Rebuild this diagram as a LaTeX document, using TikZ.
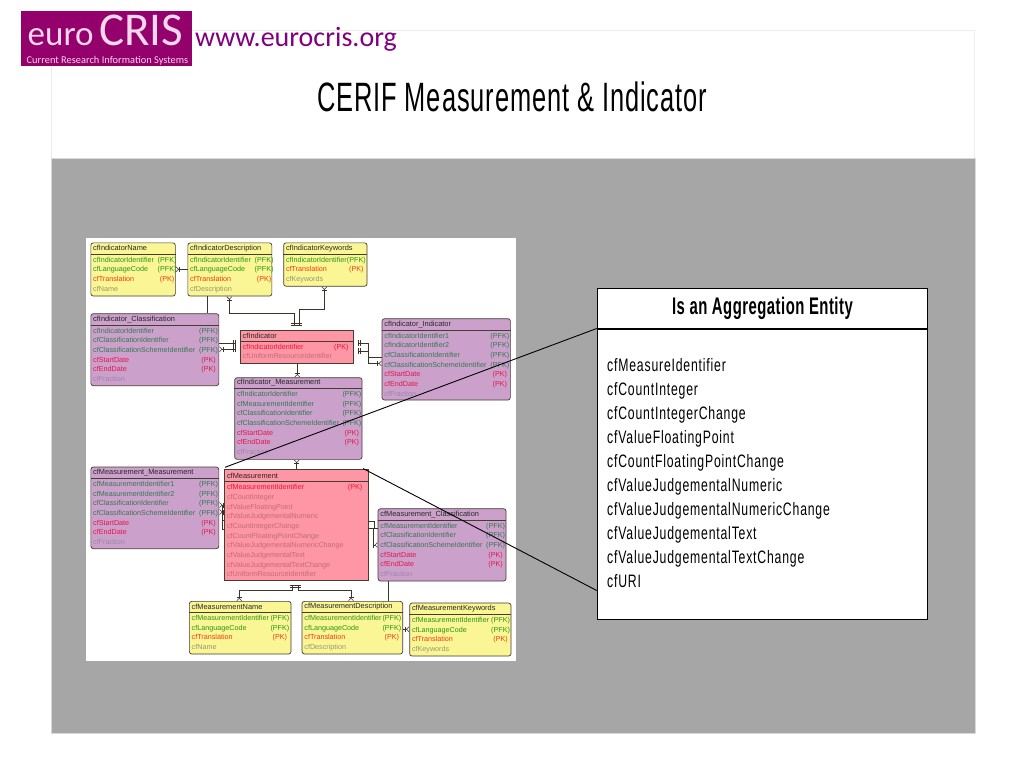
\documentclass[tikz,border=0pt]{standalone}
\usepackage{fontspec}
\usetikzlibrary{arrows.meta,positioning,matrix}
\setmainfont{Liberation Sans}
\newfontfamily\logofont{Carlito}
\newfontfamily\titlefont[FakeStretch=0.62,LetterSpace=2.2]{Liberation Sans}
\newfontfamily\condfont[FakeStretch=0.68,LetterSpace=4.5]{Liberation Sans}
\newfontfamily\condbold[FakeStretch=0.62,LetterSpace=2]{Liberation Sans Bold}

\definecolor{panelgrey}{RGB}{166,166,166}
\definecolor{logopurple}{RGB}{148,0,108}
\definecolor{logotext}{RGB}{245,215,235}
\definecolor{urlpurple}{RGB}{128,0,128}
\definecolor{edge}{RGB}{70,60,50}
\definecolor{yellowfill}{RGB}{250,246,150}
\definecolor{yellowpfk}{RGB}{40,150,20}
\definecolor{yellowpk}{RGB}{240,60,10}
\definecolor{yellowattr}{RGB}{150,150,110}
\definecolor{purplefill}{RGB}{203,161,204}
\definecolor{purplepfk}{RGB}{50,120,80}
\definecolor{purplepk}{RGB}{230,20,70}
\definecolor{purpleattr}{RGB}{160,130,170}
\definecolor{pinkfill}{RGB}{255,150,165}
\definecolor{pinkpk}{RGB}{240,20,50}
\definecolor{pinkattr}{RGB}{190,110,120}
\definecolor{pinkpfk}{RGB}{240,20,50}

\tikzset{
  crow/.tip={Bar[width=5pt,sep=0.6pt] Straight Barb[reversed,length=2.5pt,width=5pt]},
  onebar/.tip={Bar[width=6pt,sep=1.6pt] Bar[width=6pt,sep=4pt]},
  link/.style={draw=edge!85!black,line width=0.55pt},
  box/.style={draw=edge,line width=0.7pt,anchor=north west,inner sep=0pt},
  roundbox/.style={box,rounded corners=2.5pt},
  fields/.style={matrix of nodes,ampersand replacement=\&,anchor=north west,inner sep=0pt,
    nodes={inner sep=0pt,text height=7pt,text depth=2.7pt,font=\fontsize{7.2}{9}\selectfont,align=left}},
  pfk/.style={text=\ercol pfk},
  pk/.style={text=\ercol pk},
  attr/.style={text=\ercol attr},
  callout/.style={draw=black,line width=0.9pt},
  aggrows/.style={matrix of nodes,anchor=north west,inner sep=0pt,
    nodes={anchor=base west,inner sep=0pt,text height=15pt,text depth=9pt,font=\condfont\fontsize{18}{22}\selectfont}}
}

% name, colour, corner style, x, y, w, h, header height, key offset, title, rows
\newcommand{\entity}[9]{%
  \def\ercol{#2}%
  \def\erhead{#7}%
  \def\erkey{#8}%
  \node[#3,fill=#2fill,minimum width=#5pt,minimum height=#6pt] (#1) at (#4) {};
  \draw[edge,line width=0.7pt] ([yshift=-\erhead pt]#1.north west) -- ([yshift=-\erhead pt]#1.north east);
  \entityrows{#1}{#9}}
\newcommand{\entityrows}[3]{%
  \node[anchor=west,inner sep=0pt,text=black!85,font=\fontsize{7.4}{9}\selectfont] (#1title) at ([xshift=2.5pt,yshift=-0.5*\erhead pt]#1.north west) {#2};
  \matrix[fields,column 1/.style={nodes={text width=\erkey pt}}] (#1rows) at ([xshift=2.5pt,yshift=-\erhead pt-0.9pt]#1.north west) {#3};}

\begin{document}
\begin{tikzpicture}[x=1pt,y=-1pt]
\useasboundingbox (0,0) rectangle (1024,768);
% slide
\node[box,draw=black!7,fill=white,minimum width=923pt,minimum height=127pt] (header) at (51,30.5) {};
\node[box,draw=black!15,fill=panelgrey,minimum width=924pt,minimum height=575pt] (panel) at (51,158) {};
\node[box,draw=none,fill=white,minimum width=430pt,minimum height=423pt] (sheet) at (86,238) {};

% logo
\node[box,draw=none,fill=logopurple,minimum width=171pt,minimum height=55pt] (logo) at (21,11) {};
\node[anchor=base west,inner sep=0pt,text=logotext,font=\logofont\fontsize{35}{35}\selectfont] (euro) at (27.5,45.5) {euro};
\node[anchor=base west,inner sep=0pt,text=logotext,font=\logofont\fontsize{47}{47}\selectfont] (cris) at (99,45.5) {CRIS};
\node[anchor=base west,inner sep=0pt,text=logotext,font=\logofont\fontsize{10.4}{11}\selectfont] (tagline) at (26.5,63.3) {Current Research Information Systems};
\node[anchor=base west,inner sep=0pt,text=urlpurple,font=\logofont\fontsize{28}{28}\selectfont] (url) at (195,46.7) {www.eurocris.org};
\node[inner sep=0pt,font=\titlefont\fontsize{41}{44}\selectfont] (title) at (512,97) {CERIF Measurement \& Indicator};

% top tables
\entity{indName}{yellow}{roundbox}{90.5,242.5}{84.5}{53.2}{11.5}{64.5}{cfIndicatorName}{
  |[pfk]| cfIndicatorIdentifier \& |[pfk]| (PFK)\\
  |[pfk]| cfLanguageCode \& |[pfk]| (PFK)\\
  |[pk]| cfTranslation \& |[pk]| (PK)\\
  |[attr]| cfName \& \\
}
\entity{indDesc}{yellow}{roundbox}{187.5,242.5}{84}{53.2}{11.5}{64.5}{cfIndicatorDescription}{
  |[pfk]| cfIndicatorIdentifier \& |[pfk]| (PFK)\\
  |[pfk]| cfLanguageCode \& |[pfk]| (PFK)\\
  |[pk]| cfTranslation \& |[pk]| (PK)\\
  |[attr]| cfDescription \& \\
}
\entity{indKey}{yellow}{roundbox}{283.3,242.5}{83.4}{43.4}{11.5}{60.9}{cfIndicatorKeywords}{
  |[pfk]| cfIndicatorIdentifier \& |[pfk]| (PFK)\\
  |[pk]| cfTranslation \& |[pk]| (PK)\\
  |[attr]| cfKeywords \& \\
}
\entity{indClass}{purple}{roundbox}{90.5,313.3}{128}{72}{11.7}{106}{cfIndicator\_Classification}{
  |[pfk]| cfIndicatorIdentifier \& |[pfk]| (PFK)\\
  |[pfk]| cfClassificationIdentifier \& |[pfk]| (PFK)\\
  |[pfk]| cfClassificationSchemeIdentifier \& |[pfk]| (PFK)\\
  |[pk]| cfStartDate \& |[pk]| (PK)\\
  |[pk]| cfEndDate \& |[pk]| (PK)\\
  |[attr]| cfFraction \& \\
}
\entity{ind}{pink}{box}{240,330}{113.3}{33.3}{11}{91.5}{cfIndicator}{
  |[pk]| cfIndicatorIdentifier \& |[pk]| (PK)\\
  |[attr]| cfUniformResourceIdentifier \& \\
}
\entity{indInd}{purple}{roundbox}{381.7,318.3}{128.3}{81.4}{11.7}{106}{cfIndicator\_Indicator}{
  |[pfk]| cfIndicatorIdentifier1 \& |[pfk]| (PFK)\\
  |[pfk]| cfIndicatorIdentifier2 \& |[pfk]| (PFK)\\
  |[pfk]| cfClassificationIdentifier \& |[pfk]| (PFK)\\
  |[pfk]| cfClassificationSchemeIdentifier \& |[pfk]| (PFK)\\
  |[pk]| cfStartDate \& |[pk]| (PK)\\
  |[pk]| cfEndDate \& |[pk]| (PK)\\
  |[attr]| cfFraction \& \\
}
\entity{indMeas}{purple}{roundbox}{234.3,377.3}{127.4}{81.7}{11}{105.5}{cfIndicator\_Measurement}{
  |[pfk]| cfIndicatorIdentifier \& |[pfk]| (PFK)\\
  |[pfk]| cfMeasurementIdentifier \& |[pfk]| (PFK)\\
  |[pfk]| cfClassificationIdentifier \& |[pfk]| (PFK)\\
  |[pfk]| cfClassificationSchemeIdentifier \& |[pfk]| (PFK)\\
  |[pk]| cfStartDate \& |[pk]| (PK)\\
  |[pk]| cfEndDate \& |[pk]| (PK)\\
  |[attr]| cfFraction \& \\
}

% lower tables
\entity{measMeas}{purple}{roundbox}{90.5,466.7}{128}{81.6}{11.6}{106}{cfMeasurement\_Measurement}{
  |[pfk]| cfMeasurementIdentifier1 \& |[pfk]| (PFK)\\
  |[pfk]| cfMeasurementIdentifier2 \& |[pfk]| (PFK)\\
  |[pfk]| cfClassificationIdentifier \& |[pfk]| (PFK)\\
  |[pfk]| cfClassificationSchemeIdentifier \& |[pfk]| (PFK)\\
  |[pk]| cfStartDate \& |[pk]| (PK)\\
  |[pk]| cfEndDate \& |[pk]| (PK)\\
  |[attr]| cfFraction \& \\
}
\entity{meas}{pink}{box}{224.3,469.3}{143.4}{110.7}{12.2}{120.9}{cfMeasurement}{
  |[pk]| cfMeasurementIdentifier \& |[pk]| (PK)\\
  |[attr]| cfCountInteger \& \\
  |[attr]| cfValueFloatingPoint \& \\
  |[attr]| cfValueJudgementalNumeric \& \\
  |[attr]| cfCountIntegerChange \& \\
  |[attr]| cfCountFloatingPointChange \& \\
  |[attr]| cfValueJudgementalNumericChange \& \\
  |[attr]| cfValueJudgementalText \& \\
  |[attr]| cfValueJudgementalTextChange \& \\
  |[attr]| cfUniformResourceIdentifier \& \\
}
\entity{measClass}{purple}{roundbox}{377.7,508.3}{128}{72.4}{11.7}{105.8}{cfMeasurement\_Classification}{
  |[pfk]| cfMeasurementIdentifier \& |[pfk]| (PFK)\\
  |[pfk]| cfClassificationIdentifier \& |[pfk]| (PFK)\\
  |[pfk]| cfClassificationSchemeIdentifier \& |[pfk]| (PFK)\\
  |[pk]| cfStartDate \& |[pk]| (PK)\\
  |[pk]| cfEndDate \& |[pk]| (PK)\\
  |[attr]| cfFraction \& \\
}
\entity{measName}{yellow}{roundbox}{189,601}{101.7}{52.7}{11.3}{78.8}{cfMeasurementName}{
  |[pfk]| cfMeasurementIdentifier \& |[pfk]| (PFK)\\
  |[pfk]| cfLanguageCode \& |[pfk]| (PFK)\\
  |[pk]| cfTranslation \& |[pk]| (PK)\\
  |[attr]| cfName \& \\
}
\entity{measDesc}{yellow}{roundbox}{301.7,601}{100.6}{52.7}{11.3}{78.1}{cfMeasurementDescription}{
  |[pfk]| cfMeasurementIdentifier \& |[pfk]| (PFK)\\
  |[pfk]| cfLanguageCode \& |[pfk]| (PFK)\\
  |[pk]| cfTranslation \& |[pk]| (PK)\\
  |[attr]| cfDescription \& \\
}
\entity{measKey}{yellow}{roundbox}{409.3,602.7}{101.4}{53}{11.6}{79.2}{cfMeasurementKeywords}{
  |[pfk]| cfMeasurementIdentifier \& |[pfk]| (PFK)\\
  |[pfk]| cfLanguageCode \& |[pfk]| (PFK)\\
  |[pk]| cfTranslation \& |[pk]| (PK)\\
  |[attr]| cfKeywords \& \\
}

% relationships
\draw[link,-{crow}] ([yshift=-26.8pt]indDesc.north west) -- ([yshift=-26.8pt]indName.north east);
\draw[link] ([xshift=19.8pt]indDesc.south west) -- ([xshift=116.8pt]indClass.north west);
\draw[link,{crow}-{onebar}] ([xshift=41.8pt]indDesc.south west) -- ++(0,17) -| ([xshift=54.3pt]ind.north west);
\draw[link,{crow}-{onebar}] ([xshift=41pt]indKey.south west) -- ++(0,22.3) -| ([xshift=59pt]ind.north west);
\draw[link,{onebar}-] ([yshift=-13.3pt]ind.north west) -- ([yshift=-30pt]indClass.north east);
\draw[link,{onebar}-{crow}] ([yshift=-19.3pt]ind.north west) -- ([yshift=-36pt]indClass.north east);
\draw[link,{onebar}-] ([yshift=-13.3pt]ind.north east) -- ++(14.7,0) |- ([yshift=-38.7pt]indInd.north west);
\draw[link,{onebar}-{crow}] ([yshift=-21pt]ind.north east) -- ++(14.7,0) |- ([yshift=-45.2pt]indInd.north west);
\draw[link,-{crow}] ([xshift=57.3pt]ind.south west) -- ([xshift=63pt]indMeas.north west);
\draw[link,-{crow}] ([xshift=72.4pt]meas.north west) -- ([xshift=62.4pt]indMeas.south west);
\draw[link,-{crow}] ([yshift=-51.4pt]meas.north west) -- ++(-1.6,0) |- ([yshift=-38.3pt]measMeas.north east);
\draw[link,-{crow}] ([yshift=-59.7pt]meas.north west) -- ++(-1.6,0) |- ([yshift=-45.3pt]measMeas.north east);
\draw[link] ([yshift=-52.4pt]meas.north east) -- ++(6.3,0) |- ([yshift=-20pt]measClass.north west);
\draw[link,-{crow}] ([yshift=-58.7pt]meas.north east) -- ++(5.3,0) |- ([yshift=-36.7pt]measClass.north west);
\draw[link,{onebar}-{crow}] ([xshift=68.4pt]meas.south west) -- ++(0,10) -| ([xshift=50.3pt]measName.north west);
\draw[link,{onebar}-{crow}] ([xshift=74pt]meas.south west) -- ++(0,10) -| ([xshift=49.3pt]measDesc.north west);
\draw[link] ([xshift=10.6pt]measClass.south west) -- ([xshift=86.6pt]measDesc.north west);
\draw[link,-{crow}] ([yshift=-28.3pt]measDesc.north east) -- ([yshift=-26.6pt]measKey.north west);

% aggregation box
\node[box,draw=black,line width=0.8pt,fill=white,minimum width=330.6pt,minimum height=39.4pt] (aggHead) at (596.7,288.3) {};
\node[inner sep=0pt,font=\condbold\fontsize{24}{26}\selectfont] (aggTitle) at (aggHead.center) {Is an Aggregation Entity};
\node[box,draw=black,line width=0.8pt,fill=white,minimum width=330.6pt,minimum height=290.6pt,below=0pt of aggHead.south west,anchor=north west] (aggBody) {};
\matrix[aggrows] (aggList) at (607,356) {
  cfMeasureIdentifier\\
  cfCountInteger\\
  cfCountIntegerChange\\
  cfValueFloatingPoint\\
  cfCountFloatingPointChange\\
  cfValueJudgementalNumeric\\
  cfValueJudgementalNumericChange\\
  cfValueJudgementalText\\
  cfValueJudgementalTextChange\\
  cfURI\\
};
\coordinate (measLeft) at (225,467.3);
\coordinate (measRight) at (363,468.5);
\coordinate (aggLow) at (596.7,590.5);
\draw[callout] (aggHead.south west) -- (measLeft);
\draw[callout] (measRight) -- (aggLow);
\end{tikzpicture}
\end{document}
